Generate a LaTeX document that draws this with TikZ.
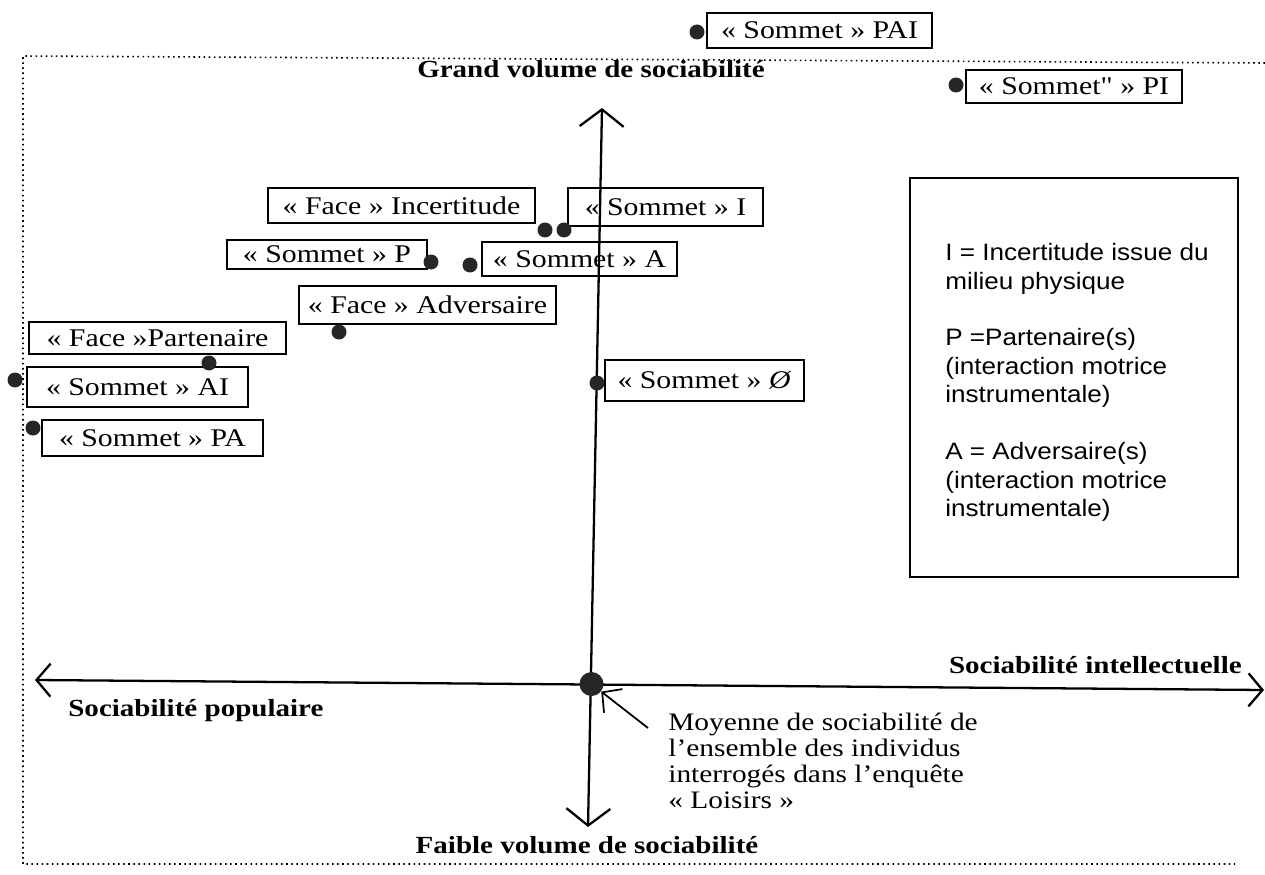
\documentclass[tikz,border=0pt]{standalone}
\usepackage{fontspec}
\usetikzlibrary{arrows.meta}

\newfontfamily\boitefont[FakeStretch=1.17]{Liberation Serif}
\newfontfamily\titrefont[FakeStretch=1.18]{Liberation Serif}
\newfontfamily\legendefont[FakeStretch=1.1]{Liberation Sans}

\newcommand\px{0.02cm}

\tikzset{
  etiquette/.style={draw, line width=1.5pt, inner sep=0pt,
    font=\boitefont\fontsize{14.5}{15}\selectfont},
  point/.style={circle, fill=black!85, inner sep=0pt, minimum size=15*\px},
  titre/.style={inner sep=0pt, font=\titrefont\bfseries\fontsize{14}{16}\selectfont},
  axe/.style={line width=1.3pt},
  barbev/.tip={Straight Barb[length=0.34cm, width=0.88cm]},
  barbeh/.tip={Straight Barb[length=0.28cm, width=0.66cm]},
  barbe/.tip={Straight Barb[length=0.28cm, width=0.6cm]},
}

\begin{document}
\begin{tikzpicture}[x=\px, y=-\px]
    \useasboundingbox (0,0) rectangle (1265,875);

    % cadre
    \draw[dotted, line width=0.9pt] (1265,63) -- (23,56) -- (23,864) -- (1235,864);

    % axes
    \coordinate (haut) at (602,108);
    \coordinate (bas) at (588,827);
    \coordinate (gauche) at (35,680);
    \coordinate (droite) at (1264,690);
    \draw[axe, barbev-barbev] (bas) -- (haut);
    \draw[axe, barbeh-barbeh] (gauche) -- (droite);
    \node[point, minimum size=24*\px] (origine) at (591.5,684) {};

    \node[titre, anchor=base] (grand) at (591,78) {Grand volume de sociabilité};
    \node[titre, anchor=base] (faible) at (587,853) {Faible volume de sociabilité};
    \node[titre, anchor=base east] (intellectuelle) at (1242,673) {Sociabilité intellectuelle};
    \node[titre, anchor=base west] (populaire) at (68,716) {Sociabilité populaire};

    % moyenne
    \node[anchor=north west, inner sep=0pt, align=left,
      font=\boitefont\fontsize{14.3}{14.75}\selectfont] (moyenne) at (668,713)
      {Moyenne de sociabilité de\\ l’ensemble des individus\\ interrogés dans l’enquête\\ « Loisirs »};
    \coordinate (renvoi) at (648,728);
    \draw[line width=1pt, -barbe] (renvoi) -- (origine);

    % sommets et faces
    \node[etiquette, minimum width=225*\px, minimum height=35*\px] (sommetPAI) at (819.5,30.5) {« Sommet » PAI};
    \node[etiquette, minimum width=216*\px, minimum height=33*\px] (sommetPI) at (1074,86.5) {« Sommet" » PI};
    \node[etiquette, minimum width=267*\px, minimum height=35*\px] (faceI) at (401.5,205.5) {« Face » Incertitude};
    \node[etiquette, minimum width=195*\px, minimum height=38*\px] (sommetI) at (665.5,207) {« Sommet » I};
    \node[etiquette, minimum width=200*\px, minimum height=29*\px] (sommetP) at (327,254.5) {« Sommet » P};
    \node[etiquette, minimum width=195*\px, minimum height=34*\px] (sommetA) at (579.5,259) {« Sommet » A};
    \node[etiquette, minimum width=257*\px, minimum height=38*\px] (faceA) at (427.5,305) {« Face » Adversaire};
    \node[etiquette, minimum width=257*\px, minimum height=32*\px] (faceP) at (157.5,338) {« Face »Partenaire};
    \node[etiquette, minimum width=221*\px, minimum height=40*\px] (sommetAI) at (137.5,387) {« Sommet » AI};
    \node[etiquette, minimum width=221*\px, minimum height=36*\px] (sommetPA) at (152.5,438) {« Sommet » PA};
    \node[etiquette, minimum width=199*\px, minimum height=41*\px] (sommetVide) at (704.5,380.5) {« Sommet » \textit{Ø}};

    \node[point] (pPAI) at (697,32) {};
    \node[point] (pPI) at (956,85) {};
    \node[point] (pFaceI) at (545,230) {};
    \node[point] (pI) at (564,230) {};
    \node[point] (pP) at (431,262) {};
    \node[point] (pA) at (470,265) {};
    \node[point] (pFaceA) at (339,332) {};
    \node[point] (pFaceP) at (209,363) {};
    \node[point] (pAI) at (15,380) {};
    \node[point] (pPA) at (33,428) {};
    \node[point] (pVide) at (597,383) {};

    % legende
    \node[draw, line width=0.8pt, inner sep=0pt, minimum width=328*\px, minimum height=399*\px] (legende) at (1074,377.5) {};
    \node[anchor=north west, inner sep=0pt, align=left,
      font=\legendefont\fontsize{13.5}{16.2}\selectfont] (legendetexte) at (945,243)
      {I = Incertitude issue du\\ milieu physique\\[16.2pt]
       P =Partenaire(s)\\ (interaction motrice\\ instrumentale)\\[16.2pt]
       A = Adversaire(s)\\ (interaction motrice\\ instrumentale)};
\end{tikzpicture}
\end{document}
